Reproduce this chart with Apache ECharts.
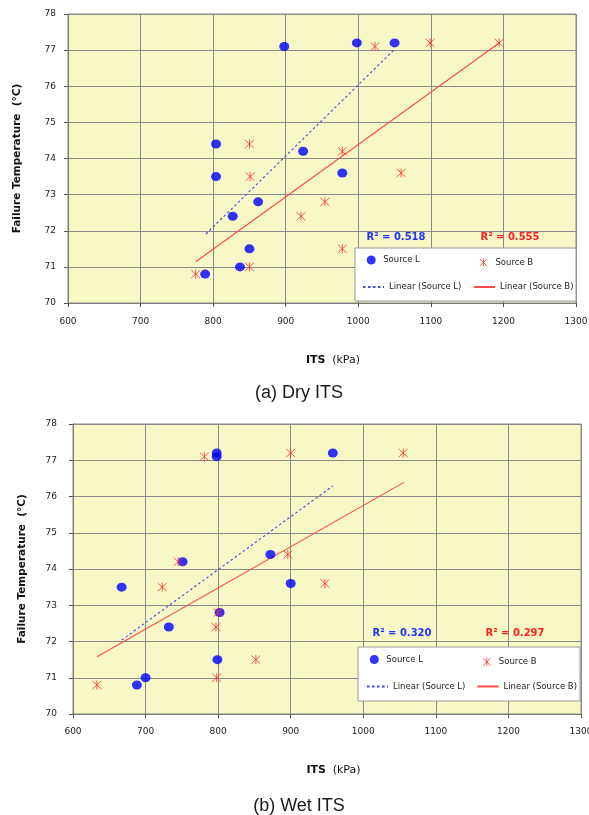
<!DOCTYPE html>
<html>
<head>
<meta charset="utf-8">
<script src="https://cdn.jsdelivr.net/npm/echarts@6/dist/echarts.min.js"></script>
<style>
html,body{margin:0;padding:0;background:#fff;}
#c{width:589px;height:815px;}
</style>
</head>
<body>
<div id="c"></div>
<script>
// ---- Data ----
const xTicks = [600, 700, 800, 900, 1000, 1100, 1200, 1300];
const yTicks = [70, 71, 72, 73, 74, 75, 76, 77, 78];

// (a) Dry ITS
const dryL = [[898,77.1],[998,77.2],[1050,77.2],[804,74.4],[924,74.2],[804,73.5],[978,73.6],[862,72.8],[827,72.4],[850,71.5],[837,71.0],[789,70.8]];
const dryB = [[1023,77.1],[1099,77.2],[1194,77.2],[850,74.4],[978,74.2],[851,73.5],[1059,73.6],[954,72.8],[921,72.4],[978,71.5],[850,71.0],[776,70.8]];
const dryTrendL = [[790,71.91],[1050,77.02]];
const dryTrendB = [[776,71.14],[1195,77.21]];
const dryR2 = ['R\u00B2 = 0.518', 'R\u00B2 = 0.555'];

// (b) Wet ITS
const wetL = [[798,77.2],[798,77.1],[958,77.2],[751,74.2],[872,74.4],[667,73.5],[900,73.6],[802,72.8],[732,72.4],[799,71.5],[700,71.0],[688,70.8]];
const wetB = [[781,77.1],[900,77.2],[1055,77.2],[745,74.2],[896,74.4],[723,73.5],[947,73.6],[800,72.8],[797,72.4],[852,71.5],[798,71.0],[633,70.8]];
const wetTrendL = [[667,72.04],[958,76.29]];
const wetTrendB = [[633,71.58],[1056,76.39]];
const wetR2 = ['R\u00B2 = 0.320', 'R\u00B2 = 0.297'];

const seriesNames = ['Source L', 'Source B', 'Linear (Source L)', 'Linear (Source B)'];
const captions = ['(a) Dry ITS', '(b) Wet ITS'];
const yTitle = 'Failure Temperature  (\u00B0C)';

// ---- Styles ----
const F = 'DejaVu Sans';
const BLUE = '#0000FF';
const RED = '#FF3030';
const ASTER = 'path://M0 0L10 10M10 0L0 10M5 -0.5L5 10.5';

function xAxis(gi, margin, nameGap, padLeft) {
  return {
    type: 'value', gridIndex: gi, min: xTicks[0], max: xTicks[xTicks.length-1], interval: 100,
    axisLine: {show: true, lineStyle: {color: '#7a7a7a', width: 1}},
    axisTick: {show: true, length: 4, lineStyle: {color: '#555'}},
    axisLabel: {margin: margin, fontFamily: F, fontSize: 9, color: '#222', formatter: v => String(v)},
    splitLine: {show: true, lineStyle: {color: '#8a8a8a', width: 1}},
    name: '{b|ITS}  {n|(kPa)}', nameLocation: 'middle', nameGap: nameGap,
    nameTextStyle: {padding: [0,0,0,padLeft], rich: {
      b: {fontFamily: F, fontSize: 11, fontWeight: 'bold', color: '#111'},
      n: {fontFamily: F, fontSize: 11, color: '#111'}}}
  };
}
function yAxis(gi, margin, nameGap) {
  return {
    type: 'value', gridIndex: gi, min: yTicks[0], max: yTicks[yTicks.length-1], interval: 1,
    axisLine: {show: true, lineStyle: {color: '#7a7a7a', width: 1}},
    axisTick: {show: true, length: 4, lineStyle: {color: '#555'}},
    axisLabel: {margin: margin, fontFamily: F, fontSize: 9, color: '#222', formatter: v => String(v)},
    splitLine: {show: true, lineStyle: {color: '#8a8a8a', width: 1}},
    name: yTitle, nameLocation: 'middle', nameGap: nameGap, nameRotate: 90,
    nameTextStyle: {fontFamily: F, fontSize: 10.5, fontWeight: 'bold', color: '#111'}
  };
}
function scatterL(i, data) {
  return {name: seriesNames[0], type: 'scatter', xAxisIndex: i, yAxisIndex: i, data: data,
    symbol: 'circle', symbolSize: [10, 9], itemStyle: {color: BLUE}, z: 3};
}
function scatterB(i, data) {
  return {name: seriesNames[1], type: 'scatter', xAxisIndex: i, yAxisIndex: i, data: data,
    symbol: ASTER, symbolSize: [9, 9],
    itemStyle: {color: 'none', borderColor: RED, borderWidth: 1}, z: 3};
}
function trendL(i, data) {
  return {name: seriesNames[2], type: 'line', xAxisIndex: i, yAxisIndex: i, data: data,
    symbol: 'none', showSymbol: false, lineStyle: {color: '#4646E6', width: 1.1, type: [2.5, 2.5]},
    itemStyle: {color: '#4646E6'}, z: 2, silent: true};
}
function trendB(i, data) {
  return {name: seriesNames[3], type: 'line', xAxisIndex: i, yAxisIndex: i, data: data,
    symbol: 'none', showSymbol: false, lineStyle: {color: '#FF4A4A', width: 1.1, type: 'solid'},
    itemStyle: {color: '#FF4A4A'}, z: 2, silent: true};
}
function leg(name, left, top, w, kind, iconSize) {
  const o = {data: [name], left: left, top: top, itemWidth: w, itemHeight: iconSize || 9, padding: 0, itemGap: 0,
    selectedMode: false, z: 12,
    textStyle: {fontFamily: F, fontSize: 8.5, color: '#222'}};
  if (kind === 'line') o.itemStyle = {opacity: 0};
  if (kind === 'aster') o.itemStyle = {color: 'none', borderColor: RED, borderWidth: 1};
  return o;
}

const legends = [
  leg(seriesNames[0], 366.7, 255.5, 14, 'dot', 9), leg(seriesNames[1], 477.3, 256, 14, 'aster', 8),
  leg(seriesNames[2], 362, 282.5, 21, 'line'), leg(seriesNames[3], 473, 282.5, 21, 'line'),
  leg(seriesNames[0], 369.8, 655, 14, 'dot', 9), leg(seriesNames[1], 480.7, 655.5, 14, 'aster', 8),
  leg(seriesNames[2], 366, 682, 21, 'line'), leg(seriesNames[3], 476.5, 682, 21, 'line')
];

function r2Text(txt, cx, cy, color) {
  return {type: 'text', x: cx, y: cy, z: 11, style: {text: txt, fill: color, font: 'bold 10px "DejaVu Sans"',
    textAlign: 'center', textVerticalAlign: 'middle'}};
}
function caption(txt, cx, cy) {
  return {type: 'text', x: cx, y: cy, z: 11, style: {text: txt, fill: '#1a1a1a', font: '18px "Liberation Sans"',
    textAlign: 'center', textVerticalAlign: 'middle'}};
}
function box(x, y, w, h) {
  return {type: 'rect', z: 10, shape: {x: x, y: y, width: w, height: h},
    style: {fill: '#ffffff', stroke: '#9a9a9a', lineWidth: 1}};
}

const chart = echarts.init(document.getElementById('c'), null, {renderer: 'canvas'});
chart.setOption({
  animation: false,
  backgroundColor: '#ffffff',
  grid: [
    {left: 68, right: 13, top: 14, height: 289, show: true, backgroundColor: '#F8F8C7', borderColor: '#8a8a8a', borderWidth: 1, outerBoundsMode: 'none', containLabel: false},
    {left: 73, right: 8, top: 424, height: 290, show: true, backgroundColor: '#F8F8C7', borderColor: '#8a8a8a', borderWidth: 1, outerBoundsMode: 'none', containLabel: false}
  ],
  xAxis: [xAxis(0, 14, 51, 22), xAxis(1, 13, 50, 13)],
  yAxis: [yAxis(0, 12, 45), yAxis(1, 16, 45)],
  legend: legends,
  series: [
    trendL(0, dryTrendL), trendB(0, dryTrendB), scatterL(0, dryL), scatterB(0, dryB),
    trendL(1, wetTrendL), trendB(1, wetTrendB), scatterL(1, wetL), scatterB(1, wetB)
  ],
  graphic: [
    box(355, 248, 221, 53),
    box(358, 647, 222, 54),
    r2Text(dryR2[0], 396, 237, '#2233FF'), r2Text(dryR2[1], 510, 237, '#FF2020'),
    r2Text(wetR2[0], 402, 633, '#2233FF'), r2Text(wetR2[1], 515, 633, '#FF2020'),
    caption(captions[0], 299, 393),
    caption(captions[1], 299, 806)
  ]
});
</script>
</body>
</html>
